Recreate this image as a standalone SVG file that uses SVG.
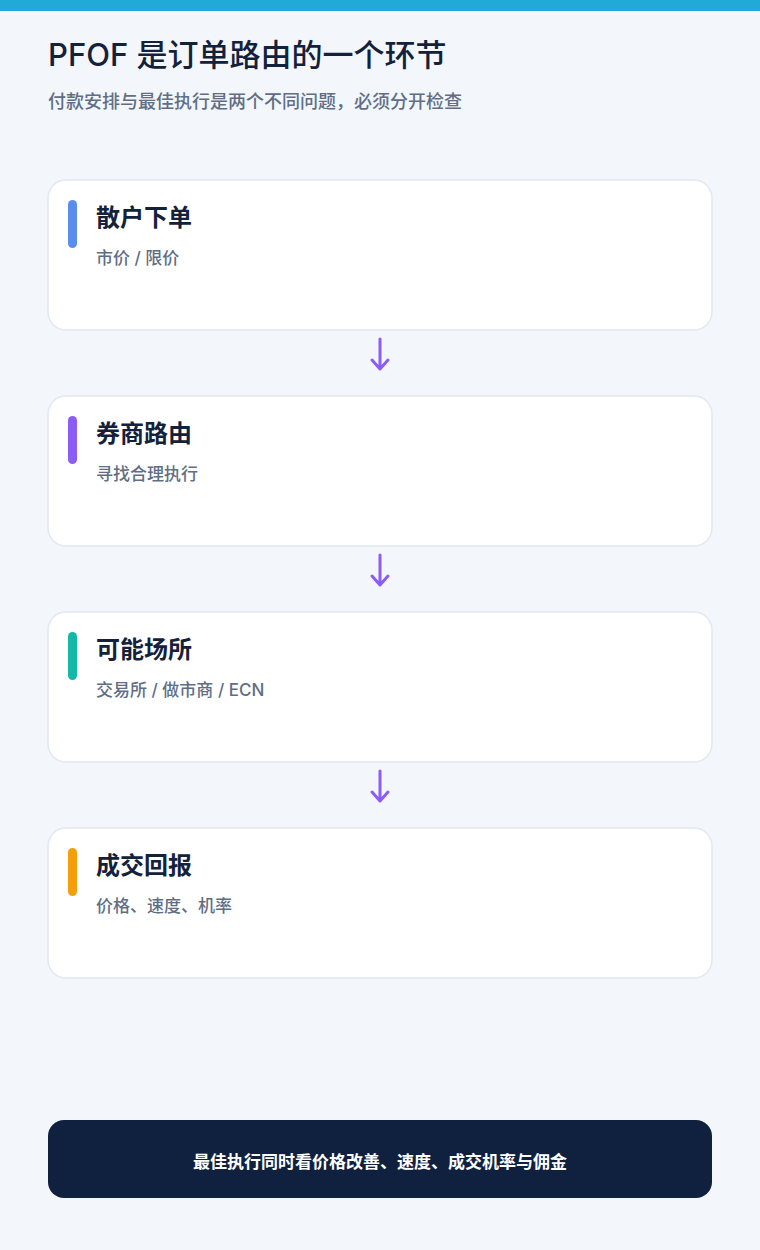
<svg xmlns="http://www.w3.org/2000/svg" width="760" height="1250" viewBox="0 0 760 1250">
<defs>
<style>
.bg{fill:#f3f6fb}
.card{fill:#ffffff;stroke:#e2e8f0;stroke-width:1.5}
.t{font-family:"Inter","Noto Sans CJK SC",sans-serif;font-weight:700;font-size:24px;fill:#13213b}
.s{font-family:"Inter","Noto Sans CJK SC",sans-serif;font-weight:500;font-size:17px;fill:#5f6e85}
.h1{font-family:"Inter","Noto Sans CJK SC",sans-serif;font-weight:500;font-size:31px;fill:#13213b}
.h2{font-family:"Inter","Noto Sans CJK SC",sans-serif;font-weight:500;font-size:18px;fill:#5f6e85}
.foot{font-family:"Inter","Noto Sans CJK SC",sans-serif;font-weight:700;font-size:17px;fill:#ffffff}
.arr{fill:none;stroke:#8b5cf6;stroke-width:3;stroke-linecap:round;stroke-linejoin:round}
</style>
</defs>
<rect class="bg" x="0" y="0" width="760" height="1250"/>
<rect x="0" y="0" width="760" height="11" fill="#22a9d8"/>
<g id="header">
<text class="h1" x="48" y="66">PFOF 是订单路由的一个环节</text>
<text class="h2" x="48" y="108">付款安排与最佳执行是两个不同问题，必须分开检查</text>
</g>
<g id="node1">
<rect class="card" x="48" y="180" width="664" height="150" rx="18"/>
<rect x="68" y="200" width="9" height="48" rx="4.5" fill="#5b8def"/>
<text class="t" x="96" y="226">散户下单</text>
<text class="s" x="96" y="264">市价 / 限价</text>
</g>
<g id="node2">
<rect class="card" x="48" y="396" width="664" height="150" rx="18"/>
<rect x="68" y="416" width="9" height="48" rx="4.5" fill="#8b5cf6"/>
<text class="t" x="96" y="442">券商路由</text>
<text class="s" x="96" y="480">寻找合理执行</text>
</g>
<g id="node3">
<rect class="card" x="48" y="612" width="664" height="150" rx="18"/>
<rect x="68" y="632" width="9" height="48" rx="4.5" fill="#14b8a6"/>
<text class="t" x="96" y="658">可能场所</text>
<text class="s" x="96" y="696">交易所 / 做市商 / ECN</text>
</g>
<g id="node4">
<rect class="card" x="48" y="828" width="664" height="150" rx="18"/>
<rect x="68" y="848" width="9" height="48" rx="4.5" fill="#f59e0b"/>
<text class="t" x="96" y="874">成交回报</text>
<text class="s" x="96" y="912">价格、速度、机率</text>
</g>
<g id="connectors">
<path class="arr" d="M380 339 V369 M372 360 L380 369 L388 360"/>
<path class="arr" d="M380 555 V585 M372 576 L380 585 L388 576"/>
<path class="arr" d="M380 771 V801 M372 792 L380 801 L388 792"/>
</g>
<g id="footer">
<rect x="48" y="1120" width="664" height="78" rx="16" fill="#10213f"/>
<text class="foot" x="380" y="1168" text-anchor="middle">最佳执行同时看价格改善、速度、成交机率与佣金</text>
</g>
</svg>
